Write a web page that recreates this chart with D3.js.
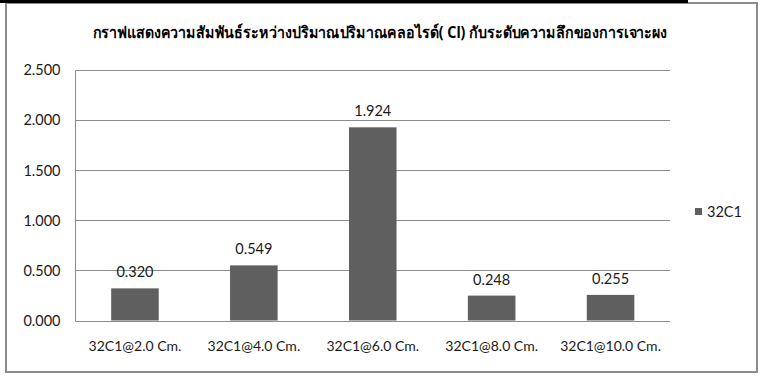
<!DOCTYPE html>
<html><head><meta charset="utf-8">
<script src="https://cdn.jsdelivr.net/npm/d3@7"></script>
<style>body{margin:0;background:#fff}svg{display:block}</style>
</head><body>
<script>
const title = "กราฟแสดงความสัมพันธ์ระหว่างปริมาณปริมาณคลอไรด์( Cl) กับระดับความลึกของการเจาะผง";
const categories = ["32C1@2.0 Cm.","32C1@4.0 Cm.","32C1@6.0 Cm.","32C1@8.0 Cm.","32C1@10.0 Cm."];
const seriesName = "32C1";
const values = [0.320, 0.549, 1.924, 0.248, 0.255];
const yTicks = [0, 0.5, 1.0, 1.5, 2.0, 2.5];

const W = 765, H = 376;
const svg = d3.select("body").append("svg").attr("width", W).attr("height", H);
const font = "Lato, 'Liberation Sans', Arial, sans-serif";

// chart frame
svg.append("rect").attr("x",6).attr("y",3).attr("width",751).attr("height",369)
  .attr("fill","#fff").attr("stroke","#8c8c8c").attr("stroke-width",2);
svg.append("rect").attr("x",0).attr("y",0).attr("width",688).attr("height",3).attr("fill","#000");

const L = 75.5, R = 670, T = 69.5, B = 320.5;
const x = d3.scaleBand().domain(categories).range([L, R]).paddingInner(0.6).paddingOuter(0.3);
const y = d3.scaleLinear().domain([0, 2.5]).range([B, T]);

// gridlines
svg.append("g").selectAll("line").data(yTicks).join("line")
  .attr("x1", L).attr("x2", R)
  .attr("y1", d => Math.round(y(d)) + 0.5).attr("y2", d => Math.round(y(d)) + 0.5)
  .attr("stroke", "#8c8c8c").attr("stroke-width", 1);
// value axis line
svg.append("line").attr("x1", L).attr("x2", L).attr("y1", Math.round(T)+0.5).attr("y2", Math.round(B)+0.5)
  .attr("stroke", "#8c8c8c");

// y axis labels
const yAxis = d3.axisLeft(y).tickValues(yTicks).tickFormat(d3.format(".3f")).tickSize(0).tickPadding(15);
const ya = svg.append("g").attr("transform", `translate(${L},0.5)`).call(yAxis);
ya.select(".domain").remove();
ya.selectAll("text").attr("font-family", font).attr("font-size", 14.5).attr("fill", "#1a1a1a");

// x axis labels
const xAxis = d3.axisBottom(x).tickSize(0).tickPadding(21);
const xa = svg.append("g").attr("transform", `translate(0,${B})`).call(xAxis);
xa.select(".domain").remove();
xa.selectAll("text").attr("font-family", font).attr("font-size", 14).attr("fill", "#1a1a1a");

// bars
svg.append("g").selectAll("rect").data(values).join("rect")
  .attr("x", (d,i) => x(categories[i]))
  .attr("width", x.bandwidth())
  .attr("y", d => y(d))
  .attr("height", d => y(0) - y(d))
  .attr("fill", "#5f5f5f");

// data labels
svg.append("g").selectAll("text").data(values).join("text")
  .attr("x", (d,i) => x(categories[i]) + x.bandwidth()/2)
  .attr("y", d => y(d) - 11)
  .attr("text-anchor", "middle")
  .attr("font-family", font).attr("font-size", 14.5).attr("fill", "#1a1a1a")
  .text(d => d3.format(".3f")(d));

// title
svg.append("text").attr("x", 380).attr("y", 38).attr("text-anchor", "middle")
  .attr("font-family", "'Noto Sans', 'DejaVu Serif', serif").attr("font-weight", "bold")
  .attr("font-size", 16).attr("fill", "#000")
  .attr("textLength", 575).attr("lengthAdjust", "spacingAndGlyphs")
  .text(title);

// legend
svg.append("rect").attr("x", 695).attr("y", 208).attr("width", 7).attr("height", 7).attr("fill", "#5f5f5f");
svg.append("text").attr("x", 707).attr("y", 217).attr("font-family", font).attr("font-size", 14.5)
  .attr("fill", "#1a1a1a").text(seriesName);
</script>
</body></html>
